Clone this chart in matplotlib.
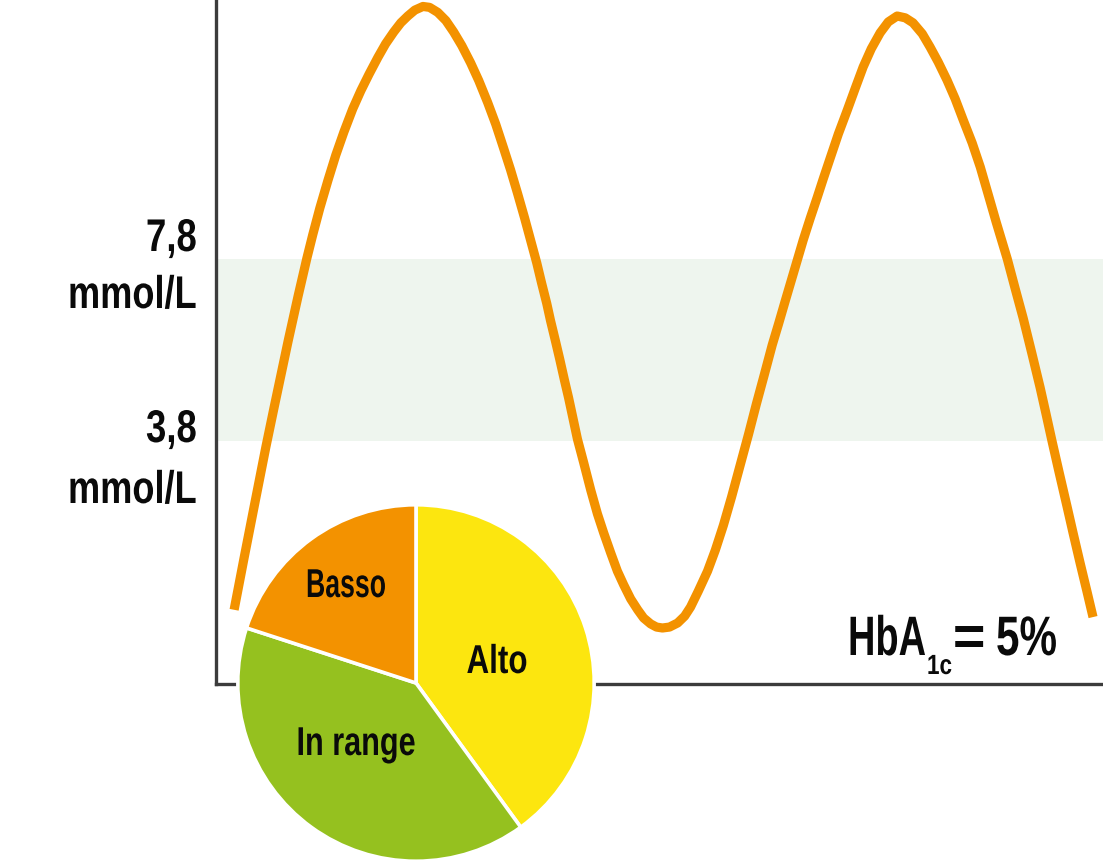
import matplotlib
matplotlib.use("Agg")
import matplotlib.pyplot as plt
from matplotlib.patheffects import AbstractPathEffect
from matplotlib.transforms import Affine2D

# ---------------- data ----------------
time_h = [0.49, 0.76, 1.03, 1.35, 1.57, 1.95, 2.22, 2.46, 2.62, 2.81, 3.03, 3.24,
          3.46, 3.70, 3.92, 4.14, 4.38, 4.59, 4.81, 5.00, 5.19, 5.38, 5.60, 5.78,
          6.00, 6.22, 6.43, 6.65, 6.89, 7.11, 7.35, 7.57, 7.78, 7.97, 8.16, 8.35,
          8.54, 8.68, 8.81, 8.95, 9.05, 9.19, 9.30, 9.43, 9.54, 9.78, 9.95, 10.14,
          10.32, 10.49, 10.68, 10.86, 11.03, 11.22, 11.41, 11.57, 11.76, 11.92, 12.08,
          12.27, 12.49, 12.68, 12.84, 13.05, 13.30, 13.51, 13.73, 13.95, 14.19, 14.41,
          14.62, 14.84, 15.05, 15.22, 15.41, 15.57, 15.73, 15.89, 16.08, 16.27, 16.43,
          16.62, 16.84, 17.08, 17.30, 17.51, 17.73, 17.97, 18.19, 18.43, 18.65, 18.86,
          19.11, 19.32, 19.54, 19.78, 20.00, 20.22, 20.46, 20.68, 20.89, 21.11, 21.41,
          21.62, 21.84, 22.08, 22.30, 22.46, 22.62, 22.81, 23.03, 23.19, 23.38, 23.57,
          23.73]
glucose = [0.09, 1.23, 2.35, 3.67, 4.53, 5.99, 6.98, 7.82, 8.34, 8.92, 9.53, 10.08,
           10.59, 11.10, 11.50, 11.86, 12.23, 12.53, 12.79, 12.99, 13.14, 13.27, 13.35, 13.33,
           13.22, 13.04, 12.79, 12.49, 12.11, 11.72, 11.24, 10.76, 10.24, 9.76, 9.24, 8.70,
           8.13, 7.71, 7.27, 6.82, 6.45, 5.98, 5.60, 5.13, 4.75, 3.84, 3.32, 2.72,
           2.20, 1.78, 1.34, 0.94, 0.64, 0.33, 0.09, -0.09, -0.22, -0.29, -0.31,
           -0.29, -0.20, -0.05, 0.15, 0.50, 0.94, 1.40, 1.95, 2.57, 3.29, 3.95,
           4.61, 5.27, 5.91, 6.37, 6.90, 7.34, 7.78, 8.22, 8.70, 9.16, 9.56,
           10.02, 10.55, 11.07, 11.56, 12.02, 12.42, 12.77, 13.01, 13.14, 13.10, 12.99,
           12.75, 12.46, 12.13, 11.73, 11.32, 10.85, 10.35, 9.82, 9.23, 8.61, 7.80,
           7.16, 6.50, 5.71, 4.97, 4.39, 3.80, 3.12, 2.35, 1.78, 1.12, 0.48,
           -0.07]
range_low = 3.8
range_high = 7.8
unit = "mmol/L"

pie_labels = ["Alto", "In range", "Basso"]
pie_values = [40, 40, 20]
pie_colors = ["#FCE60F", "#95C11F", "#F39200"]

hba1c_main = "HbA"
hba1c_sub = "1c"
hba1c_eq = "="
hba1c_value = "5%"

# ---------------- layout ----------------
W, H = 1103, 866
FONT = ["Liberation Sans", "DejaVu Sans"]
TXT = "#0A0A0A"


def fx(px):
    return px / W


def fy(py):
    return 1 - py / H


class Condense(AbstractPathEffect):
    """Horizontally squeeze glyphs around a fixed x (condensed type look)."""

    def __init__(self, x0, sx):
        super().__init__()
        self._x0 = x0
        self._sx = sx

    def draw_path(self, renderer, gc, tpath, affine, rgbFace=None):
        aff = affine + Affine2D().translate(-self._x0, 0).scale(self._sx, 1).translate(self._x0, 0)
        renderer.draw_path(gc, tpath, aff, rgbFace)


fig = plt.figure(figsize=(W / 100, H / 100), dpi=100)
fig.patch.set_facecolor("white")

ax = fig.add_axes([fx(216), fy(684), fx(W) - fx(216), 1 - fy(684)])
ax.set_xlim(0, 24)
ax.set_ylim(-1.541, 13.492)
ax.set_xticks([])
ax.set_yticks([])
for s in ["top", "right"]:
    ax.spines[s].set_visible(False)
for s in ["left", "bottom"]:
    ax.spines[s].set_color("#3C3C3C")
    ax.spines[s].set_linewidth(2.4)

ax.axhspan(range_low, range_high, color="#EEF5EE", lw=0, zorder=1)
ax.plot(time_h, glucose, color="#F39200", lw=6.6, solid_capstyle="butt",
        solid_joinstyle="round", zorder=3)

condensed = []  # (text, target ink width in px)


def ctext(px, py, s, size, ha, target_w):
    t = fig.text(fx(px), fy(py), s, ha=ha, va="baseline", family=FONT,
                 weight="bold", fontsize=size, color=TXT)
    if target_w:
        condensed.append((t, target_w))
    return t


# y labels
for val, base_py, unit_py in [(range_high, 251, 308), (range_low, 442, 503)]:
    ctext(197, base_py, f"{val:.1f}".replace(".", ","), 33, "right", 51)
    ctext(197, unit_py, unit, 33, "right", 129)

# HbA1c annotation
ctext(926, 655, hba1c_main, 40, "right", 78)
ctext(927, 674, hba1c_sub, 20, "left", 25)
ctext(969, 655, hba1c_eq, 40, "center", None)
ctext(996, 655, hba1c_value, 40, "left", 61)

# pie
cx, cy, r = 416, 683, 180
axp = fig.add_axes([fx(cx - r), fy(cy + r), fx(2 * r), (2 * r) / H])
axp.pie(pie_values, colors=pie_colors, startangle=90, counterclock=False,
        radius=1, wedgeprops=dict(edgecolor="white", linewidth=2.6))
axp.set_xlim(-1.01, 1.01)
axp.set_ylim(-1.01, 1.01)
axp.axis("off")

for lab, px, py, tw in zip(pie_labels, [497, 356, 346], [673, 755, 597], [61, 119, 80]):
    ctext(px, py, lab, 29, "center", tw)

# squeeze the labels to the condensed width of the original lettering
renderer = fig.canvas.get_renderer()
for t, tw in condensed:
    bb = t.get_window_extent(renderer)
    ha = t.get_horizontalalignment()
    x0 = bb.x0 if ha == "left" else (bb.x1 if ha == "right" else 0.5 * (bb.x0 + bb.x1))
    t.set_path_effects([Condense(x0, tw / bb.width)])

fig.savefig("out.png", dpi=100, facecolor="white")
